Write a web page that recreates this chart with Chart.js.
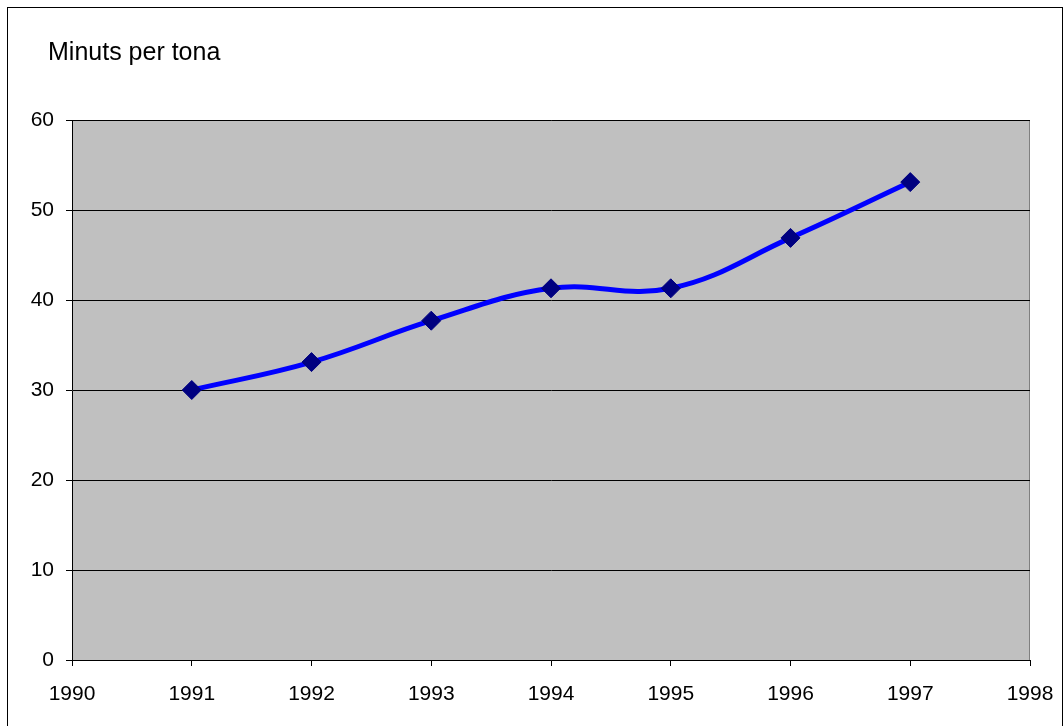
<!DOCTYPE html>
<html><head><meta charset="utf-8">
<script src="https://cdn.jsdelivr.net/npm/chart.js@4.4.0/dist/chart.umd.min.js"></script>
<style>html,body{margin:0;padding:0;background:#fff;}#wrap{width:1064px;height:726px;position:relative;}</style>
</head><body><div id="wrap"><canvas id="c" width="1064" height="726"></canvas></div>
<script>
const years = [1991, 1992, 1993, 1994, 1995, 1996, 1997];
const minutsPerTona = [30.0, 33.1, 37.7, 41.3, 41.3, 46.9, 53.1];
const xTicks = [1990, 1991, 1992, 1993, 1994, 1995, 1996, 1997, 1998];
const yTicks = [0, 10, 20, 30, 40, 50, 60];
const titleText = "Minuts per tona";

const FONT = "'Liberation Sans', Arial, sans-serif";

const deco = {
  id: 'deco',
  beforeDraw(chart) {
    const ctx = chart.ctx, a = chart.chartArea;
    ctx.save();
    ctx.fillStyle = '#fff';
    ctx.fillRect(0, 0, chart.width, chart.height);
    ctx.strokeStyle = '#000';
    ctx.lineWidth = 1;
    ctx.strokeRect(7.5, 7.5, 1055, 730);
    ctx.fillStyle = '#C0C0C0';
    ctx.fillRect(a.left, a.top, a.right - a.left, a.bottom - a.top);
    ctx.strokeStyle = '#808080';
    ctx.beginPath();
    ctx.moveTo(a.left, a.top + 0.5); ctx.lineTo(a.right - 0.5, a.top + 0.5); ctx.lineTo(a.right - 0.5, a.bottom);
    ctx.stroke();
    ctx.fillStyle = '#000';
    ctx.font = '25px ' + FONT;
    ctx.textBaseline = 'alphabetic';
    ctx.textAlign = 'left';
    ctx.fillText(titleText, 48, 60);
    ctx.restore();
  }
};

new Chart(document.getElementById('c'), {
  type: 'line',
  data: {
    datasets: [{
      data: years.map((y, i) => ({x: y, y: minutsPerTona[i]})),
      borderColor: '#0000FF',
      borderWidth: 5,
      tension: 0.4,
      cubicInterpolationMode: 'default',
      pointStyle: 'rectRot',
      pointRadius: 9.5,
      pointHoverRadius: 9.5,
      pointBackgroundColor: '#000080',
      pointBorderColor: '#000080',
      pointBorderWidth: 1,
      fill: false
    }]
  },
  options: {
    responsive: false,
    animation: false,
    events: [],
    layout: { padding: { left: 0, top: 120, right: 34, bottom: 0 } },
    plugins: { legend: { display: false }, tooltip: { enabled: false }, title: { display: false } },
    scales: {
      x: {
        type: 'linear',
        min: xTicks[0], max: xTicks[xTicks.length - 1],
        afterBuildTicks(s) { s.ticks = xTicks.map(v => ({value: v})); },
        afterFit(s) { s.height = 66; s.paddingLeft = 0; s.paddingRight = 0; },
        ticks: { callback: v => String(v), color: '#000', font: { family: FONT, size: 21 }, padding: 16, maxRotation: 0, autoSkip: false },
        grid: { drawOnChartArea: false, drawTicks: true, tickLength: 6, color: '#000', lineWidth: 1 },
        border: { display: true, color: '#000', width: 1 }
      },
      y: {
        min: 0, max: 60,
        afterBuildTicks(s) { s.ticks = yTicks.map(v => ({value: v})); },
        afterFit(s) { s.width = 72; s.paddingTop = 0; s.paddingBottom = 0; },
        ticks: { color: '#000', font: { family: FONT, size: 21 }, padding: 12 },
        grid: { color: '#000', lineWidth: 1, tickLength: 6, drawTicks: true },
        border: { display: true, color: '#000', width: 1 }
      }
    }
  },
  plugins: [deco]
});
</script></body></html>
